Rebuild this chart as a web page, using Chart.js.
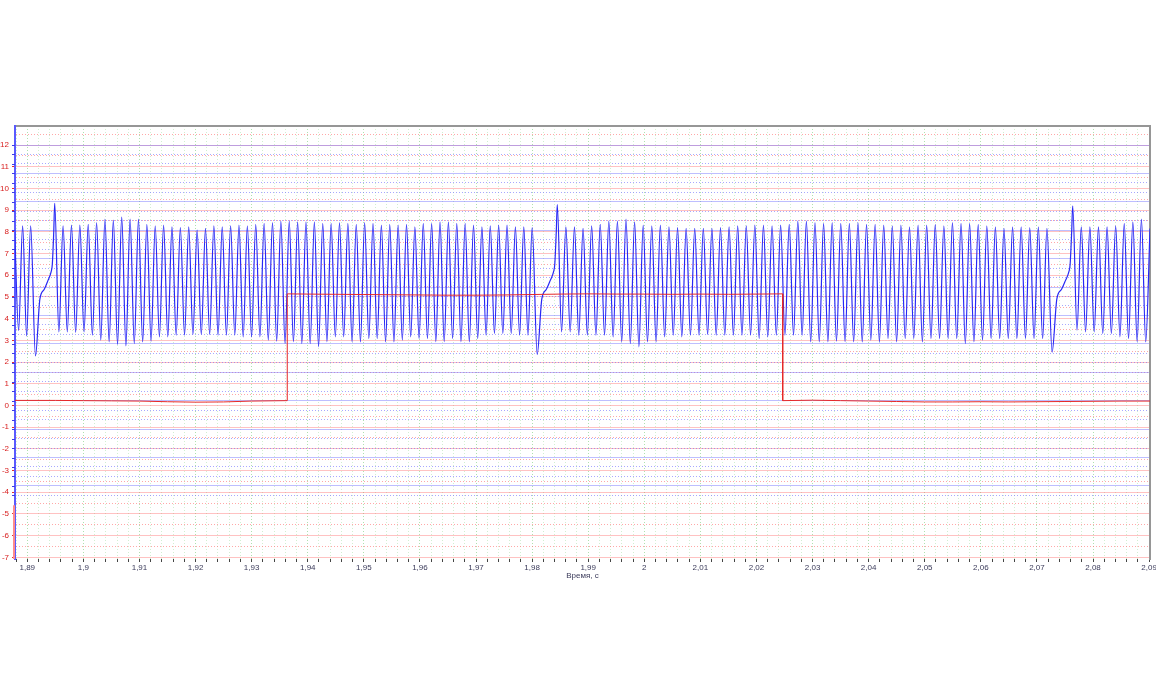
<!DOCTYPE html>
<html>
<head>
<meta charset="utf-8">
<title>Осциллограмма</title>
<script src="https://cdn.jsdelivr.net/npm/chart.js@4.4.1/dist/chart.umd.min.js"></script>
<style>
  html, body { margin: 0; padding: 0; background: #fff; }
  #scope { display: block; }
</style>
</head>
<body>
<canvas id="scope" width="1156" height="700"></canvas>
<script>
// visible window
const timeRange = [1.88781, 2.09016];
const voltRange = [-7.078, 12.876];

// crank sensor (blue): spikes at the missing-tooth gap, one per revolution
const gapSpikeTimes = [1.89489, 1.98449, 2.07638];
const gapSpikeValues = [9.31, 9.25, 9.2];
const gapDipValues = [2.28, 2.35, 2.45];
// slow ramp between the dip and the spike, offsets in tooth pitches before the spike
const dipOffset = -2.4;
const rampOffsets = [-1.85, -1.3, -0.85, -0.45, -0.3, -0.12];
const rampValues = [4.9, 5.35, 5.75, 6.15, 6.5, 8.0];

// teeth still visible before the first gap
const leadPitch = 0.00143;
const leadPeaks = [8.1, 8.28, 8.28];
const leadTroughs = [3.45, 3.2];

// revolution 1: peaks of teeth 1..57, troughs after teeth 0..56
const rev1Peaks = [
  8.28, 8.31, 8.31, 8.34, 8.43, 8.59, 8.54, 8.68, 8.59, 8.59,
  8.34, 8.28, 8.31, 8.23, 8.19, 8.23, 8.08, 8.16, 8.28, 8.23,
  8.28, 8.31, 8.28, 8.34, 8.39, 8.43, 8.49, 8.49, 8.46,
  8.46, 8.46, 8.39, 8.39, 8.43, 8.39, 8.34, 8.43, 8.39, 8.31,
  8.34, 8.31, 8.34, 8.23, 8.39, 8.39, 8.46, 8.46, 8.39, 8.39,
  8.31, 8.23, 8.28, 8.31, 8.31, 8.23, 8.23, 8.19
];
const rev1Troughs = [
  3.39, 3.39, 3.36, 3.39, 3.24, 3.01, 2.93, 2.81, 2.75, 2.85,
  2.93, 2.96, 3.16, 3.16, 3.24, 3.24, 3.27, 3.27, 3.27, 3.24,
  3.24, 3.24, 3.16, 3.16, 3.16, 3.01, 2.96, 2.85, 2.93, 2.85,
  2.85, 2.70, 2.93, 3.16, 3.16, 2.93, 2.93, 3.08, 3.08, 2.93,
  2.93, 3.01, 3.16, 3.08, 3.08, 2.93, 2.93, 3.08, 2.93, 2.93,
  3.08, 3.24, 3.31, 3.31, 3.31, 3.24, 3.24
];

// revolution 2
const rev2Peaks = [
  8.23, 8.23, 8.16,
  8.28, 8.34, 8.49, 8.49, 8.59, 8.46, 8.31, 8.28, 8.31, 8.23,
  8.19, 8.16, 8.16, 8.16, 8.16, 8.19, 8.23, 8.28, 8.28, 8.31,
  8.31, 8.28, 8.31, 8.34, 8.49, 8.49, 8.43, 8.39, 8.43, 8.39,
  8.39, 8.43, 8.34, 8.34,
  8.31, 8.28, 8.31, 8.23, 8.31, 8.31, 8.34, 8.28, 8.43, 8.39,
  8.39, 8.34, 8.28, 8.23, 8.16, 8.23, 8.23, 8.19, 8.23, 8.16
];
const rev2Troughs = [
  3.39, 3.39, 3.24,
  3.24, 3.24, 3.24, 3.16, 2.93, 2.85, 2.70, 2.93, 2.93, 3.16,
  3.24, 3.16, 3.24, 3.24, 3.27, 3.24, 3.24, 3.24, 3.24, 3.24,
  3.08, 3.16, 3.24, 3.24, 3.24, 3.24, 2.93, 2.93, 2.93, 2.96,
  2.93, 2.93, 2.93, 3.01,
  2.93, 3.08, 2.93, 3.08, 3.08, 2.93, 3.08, 3.08, 3.08, 3.08,
  2.85, 2.93, 3.01, 3.08, 3.08, 3.08, 3.08, 3.08, 3.08, 3.08
];

// revolution 3 (cut by the window)
const rev3Peaks = [8.23, 8.23, 8.23, 8.23, 8.28, 8.39, 8.46, 8.59, 8.15];
const rev3Troughs = [3.47, 3.39, 3.39, 3.31, 3.31, 3.16, 3.08, 2.93, 2.93];

// cam sensor (red)
const redTimes = [
  1.88781, 1.895, 1.90, 1.905, 1.91, 1.915, 1.92, 1.925, 1.93, 1.93635,
  1.93635, 1.94, 1.945, 1.95, 1.955, 1.96, 1.965, 1.97, 1.975, 1.98,
  1.985, 1.99, 1.995, 2.00, 2.005, 2.01, 2.015, 2.02, 2.02468,
  2.02468, 2.03, 2.035, 2.04, 2.045, 2.05, 2.055, 2.06, 2.065, 2.07,
  2.075, 2.08, 2.085, 2.09016
];
const redValues = [
  0.23, 0.23, 0.22, 0.21, 0.2, 0.17, 0.15, 0.16, 0.2, 0.22,
  5.14, 5.13, 5.12, 5.11, 5.1, 5.09, 5.08, 5.08, 5.09, 5.11,
  5.13, 5.14, 5.13, 5.13, 5.12, 5.13, 5.12, 5.13, 5.14,
  0.22, 0.24, 0.22, 0.2, 0.18, 0.16, 0.16, 0.17, 0.16, 0.17,
  0.18, 0.19, 0.2, 0.2
];

// build the blue trace from the tooth tables
const bluePoints = [];
leadPeaks.forEach((v, i) => {
  bluePoints.push({ x: gapSpikeTimes[0] + (i - 5) * leadPitch, y: v });
  if (i < leadTroughs.length) bluePoints.push({ x: gapSpikeTimes[0] + (i - 4.5) * leadPitch, y: leadTroughs[i] });
});
const revPeaks = [rev1Peaks, rev2Peaks, rev3Peaks];
const revTroughs = [rev1Troughs, rev2Troughs, rev3Troughs];
gapSpikeTimes.forEach((t, r) => {
  const gapPitch = r === 0 ? leadPitch : (t - gapSpikeTimes[r - 1]) / 60;
  bluePoints.push({ x: t + dipOffset * gapPitch, y: gapDipValues[r] });
  rampOffsets.forEach((o, i) => bluePoints.push({ x: t + o * gapPitch, y: rampValues[i] }));
  bluePoints.push({ x: t, y: gapSpikeValues[r] });
  const next = gapSpikeTimes[r + 1];
  const pitch = next ? (next - t) / 60 : gapPitch;
  revTroughs[r].forEach((v, k) => {
    bluePoints.push({ x: t + (k + 0.5) * pitch, y: v });
    if (k < revPeaks[r].length) bluePoints.push({ x: t + (k + 1) * pitch, y: revPeaks[r][k] });
  });
});
const redPoints = redTimes.map((t, i) => ({ x: t, y: redValues[i] }));

// tick helpers
const stepTicks = (min, max, step) => {
  const out = [];
  for (let k = Math.ceil(min / step - 1e-9); k <= Math.floor(max / step + 1e-9); k++) {
    out.push({ value: +(k * step).toFixed(6) });
  }
  return out;
};
const isMultiple = (v, step) => v !== undefined && Math.abs(v / step - Math.round(v / step)) < 1e-6;

// blue channel has its own grid (one third divisions)
const blueDiv = 0.4364;
const blueGrid = [];
for (let k = 0; k <= 37; k++) blueGrid.push({ value: 12 - k * blueDiv });
const axisSplitValue = -4.6;

// left axis: blue over the blue channel span, red below it, plus blue ticks
const axisSplit = {
  id: 'axisSplit',
  afterDraw(chart) {
    const { ctx, chartArea, scales } = chart;
    const ySplit = scales.y.getPixelForValue(axisSplitValue);
    ctx.save();
    ctx.strokeStyle = 'rgb(255,140,140)';
    ctx.lineWidth = 2;
    ctx.beginPath();
    ctx.moveTo(chartArea.left - 1, ySplit);
    ctx.lineTo(chartArea.left - 1, chartArea.bottom);
    ctx.stroke();
    ctx.strokeStyle = 'rgb(60,60,230)';
    ctx.lineWidth = 1;
    blueGrid.forEach((t) => {
      const y = Math.round(scales.yBlue.getPixelForValue(t.value)) + 0.5;
      ctx.beginPath();
      ctx.moveTo(chartArea.left - 3, y);
      ctx.lineTo(chartArea.left, y);
      ctx.stroke();
    });
    ctx.restore();
  }
};

Chart.defaults.font.family = '"Liberation Sans Narrow", "Liberation Sans", Arial, sans-serif';

new Chart(document.getElementById('scope'), {
  type: 'line',
  data: {
    datasets: [
      {
        label: 'Cam',
        data: redPoints,
        borderColor: 'rgb(230,40,40)',
        borderWidth: 1,
        pointRadius: 0,
        fill: false,
        tension: 0,
        order: 0
      },
      {
        label: 'Crank',
        data: bluePoints,
        borderColor: 'rgb(40,40,245)',
        borderWidth: 1.2,
        pointRadius: 0,
        fill: false,
        cubicInterpolationMode: 'monotone',
        order: 1
      }
    ]
  },
  options: {
    responsive: false,
    animation: false,
    events: [],
    layout: { padding: { left: 0, right: 6, top: 126, bottom: 117 } },
    plugins: { legend: { display: false }, tooltip: { enabled: false } },
    scales: {
      x: {
        type: 'linear',
        min: timeRange[0],
        max: timeRange[1],
        afterBuildTicks: (s) => { s.ticks = stepTicks(s.min, s.max, 0.002); },
        afterFit: (s) => { s.height = 24; s.paddingLeft = 0; s.paddingRight = 0; },
        ticks: {
          autoSkip: false,
          maxRotation: 0,
          minRotation: 0,
          padding: 1,
          color: '#3a3a5a',
          font: { size: 8 },
          callback: (v) => {
            const h = Math.round(v * 1000);
            return h % 10 === 0 ? String(h / 1000).replace('.', ',') : '';
          }
        },
        grid: {
          color: (c) => isMultiple(c.tick && c.tick.value, 0.01) ? 'rgba(110,200,110,0.55)' : 'rgba(140,215,140,0.4)',
          tickColor: '#444',
          tickLength: 3
        },
        border: { display: false, dash: (c) => c.tick ? [1, 2] : [] },
        title: {
          display: true,
          text: 'Время, с',
          color: '#3a3a5a',
          font: { size: 8 },
          padding: { top: 0, bottom: 2 }
        }
      },
      xTop: {
        type: 'linear',
        position: 'top',
        min: timeRange[0],
        max: timeRange[1],
        afterFit: (s) => { s.height = 0; },
        ticks: { display: false },
        grid: { drawOnChartArea: false, drawTicks: false },
        border: { color: 'rgb(150,150,150)', width: 2 }
      },
      y: {
        type: 'linear',
        position: 'left',
        min: voltRange[0],
        max: voltRange[1],
        afterBuildTicks: (s) => { s.ticks = stepTicks(s.min, s.max, 0.5); },
        afterFit: (s) => { s.width = 15; s.paddingTop = 0; s.paddingBottom = 0; },
        ticks: {
          autoSkip: false,
          padding: 3,
          color: '#d82020',
          font: { size: 8 },
          callback: (v) => isMultiple(v, 1) ? String(Math.round(v)) : ''
        },
        grid: {
          color: (c) => isMultiple(c.tick && c.tick.value, 1) ? 'rgba(255,110,110,0.42)' : 'rgba(255,110,110,0.6)',
          tickColor: (c) => isMultiple(c.tick && c.tick.value, 1) ? '#e03030' : 'rgba(255,110,110,0)',
          tickLength: 3
        },
        border: {
          color: 'rgb(90,90,255)',
          width: 2,
          dash: (c) => c.tick && !isMultiple(c.tick.value, 1) ? [1, 2] : []
        }
      },
      yBlue: {
        type: 'linear',
        position: 'right',
        min: voltRange[0],
        max: voltRange[1],
        afterBuildTicks: (s) => { s.ticks = blueGrid.map((t) => ({ value: t.value })); },
        afterFit: (s) => { s.width = 0; },
        ticks: { display: false, autoSkip: false },
        grid: {
          color: (c) => c.index % 3 === 0 ? 'rgba(110,110,255,0.45)' : 'rgba(110,110,255,0.6)',
          drawTicks: false
        },
        border: {
          color: 'rgb(150,150,150)',
          width: 2,
          dash: (c) => c.tick && c.index % 3 ? [1, 2] : []
        }
      }
    }
  },
  plugins: [axisSplit]
});
</script>
</body>
</html>
